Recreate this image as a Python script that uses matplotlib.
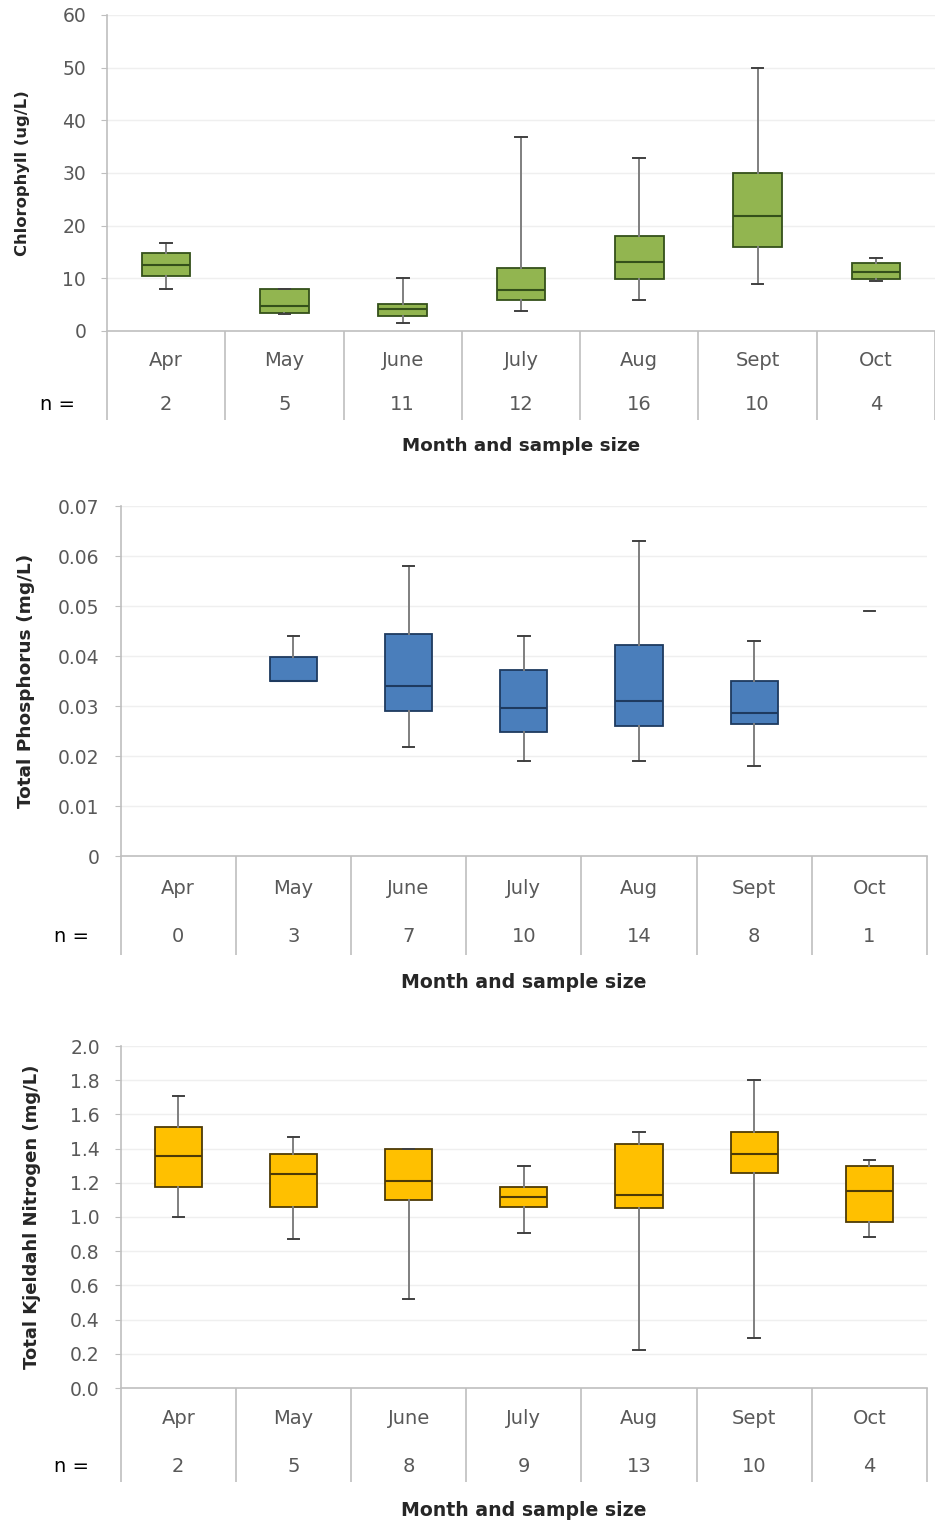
import matplotlib
matplotlib.use("Agg")
import matplotlib.pyplot as plt

plt.rcParams['font.family'] = ['DejaVu Sans']

months = ["Apr", "May", "June", "July", "Aug", "Sept", "Oct"]

# chlorophyll (ug/L): low whisker, Q1, median, Q3, high whisker
chl_n = [2, 5, 11, 12, 16, 10, 4]
chl_lo = [8.0, 3.2, 1.5, 3.8, 5.8, 8.9, 9.5]
chl_q1 = [10.4, 3.5, 2.8, 5.8, 9.9, 16.0, 9.9]
chl_med = [12.6, 4.7, 4.1, 7.7, 13.1, 21.8, 11.2]
chl_q3 = [14.8, 8.0, 5.1, 12.0, 18.0, 30.0, 13.0]
chl_hi = [16.8, 8.0, 10.0, 36.8, 32.9, 50.0, 13.9]

# total phosphorus (mg/L); Apr has no samples, Oct a single one
tp_n = [0, 3, 7, 10, 14, 8, 1]
tp_lo = [None, 0.035, 0.0218, 0.019, 0.019, 0.0181, 0.049]
tp_q1 = [None, 0.035, 0.029, 0.0249, 0.026, 0.0265, 0.049]
tp_med = [None, 0.035, 0.034, 0.0296, 0.031, 0.0286, 0.049]
tp_q3 = [None, 0.0398, 0.0445, 0.0373, 0.0422, 0.035, 0.049]
tp_hi = [None, 0.044, 0.058, 0.044, 0.0631, 0.043, 0.049]

# total Kjeldahl nitrogen (mg/L)
tkn_n = [2, 5, 8, 9, 13, 10, 4]
tkn_lo = [1.0, 0.87, 0.52, 0.907, 0.225, 0.295, 0.882]
tkn_q1 = [1.175, 1.06, 1.099, 1.06, 1.05, 1.259, 0.968]
tkn_med = [1.357, 1.249, 1.212, 1.118, 1.13, 1.366, 1.152]
tkn_q3 = [1.528, 1.366, 1.40, 1.177, 1.425, 1.495, 1.30]
tkn_hi = [1.708, 1.47, 1.40, 1.30, 1.495, 1.80, 1.333]

W, H = 935, 1526
fig = plt.figure(figsize=(W / 100, H / 100), dpi=100)

GRAY = '#595959'


def add_panel(rect, lo, q1, med, q3, hi, ns, ylim, yticks, yfmt, ylabel, ysize, ylx,
              face, edge, band, month_off, n_off, xlab_off, nx, xsize):
    ax = fig.add_axes(rect)
    pos = list(range(1, len(months) + 1))
    stats, spos, single = [], [], []
    for i in range(len(months)):
        if q1[i] is None:
            continue
        s = dict(whislo=lo[i], q1=q1[i], med=med[i], q3=q3[i], whishi=hi[i], fliers=[])
        if ns[i] == 1:
            single.append((pos[i], s))
        else:
            stats.append(s)
            spos.append(pos[i])
    ax.bxp(stats, positions=spos, widths=0.41, patch_artist=True,
           showfliers=False, capwidths=0.1, manage_ticks=False,
           boxprops=dict(facecolor=face, edgecolor=edge, linewidth=1.3),
           medianprops=dict(color=edge, linewidth=1.5),
           whiskerprops=dict(color='#7f7f7f', linewidth=1.4),
           capprops=dict(color='#404040', linewidth=1.4), zorder=3)
    for p, s in single:
        ax.bxp([s], positions=[p], widths=0.41, showbox=False,
               showfliers=False, capwidths=0.1, manage_ticks=False,
               medianprops=dict(visible=False),
               whiskerprops=dict(color='#404040', linewidth=1.2),
               capprops=dict(color='#404040', linewidth=1.2), zorder=3)

    ax.set_xlim(0.5, len(months) + 0.5)
    ax.set_ylim(*ylim)
    ax.set_yticks(yticks)
    ax.set_yticklabels([yfmt(v) for v in yticks])
    ax.grid(axis='y', color='#efefef', linewidth=1)
    ax.set_axisbelow(True)
    for sp in ['top', 'right']:
        ax.spines[sp].set_visible(False)
    for sp in ['left', 'bottom']:
        ax.spines[sp].set_color('#bfbfbf')
        ax.spines[sp].set_linewidth(1.2)
    ax.tick_params(axis='y', colors='#bfbfbf', labelcolor=GRAY, length=4,
                   labelsize=13.5, pad=11)
    ax.set_xticks(pos)
    ax.set_xticklabels([])
    ax.tick_params(axis='x', which='major', length=0)
    ax.set_xticks([p + 0.5 for p in range(len(months) + 1)], minor=True)
    ax.tick_params(axis='x', which='minor', length=band * 0.72,
                   color='#bfbfbf', width=1.2)

    for p, m, n in zip(pos, months, ns):
        ax.annotate(m, xy=(p, 0), xycoords=('data', 'axes fraction'),
                    xytext=(0, -month_off), textcoords='offset pixels',
                    ha='center', va='center', fontsize=14, color=GRAY)
        ax.annotate(str(n), xy=(p, 0), xycoords=('data', 'axes fraction'),
                    xytext=(0, -n_off), textcoords='offset pixels',
                    ha='center', va='center', fontsize=14, color=GRAY)
    ax.annotate("n =", xy=(0, 0), xycoords='axes fraction',
                xytext=(nx, -n_off), textcoords='offset pixels',
                ha='center', va='center', fontsize=14, color='black')
    ax.annotate("Month and sample size", xy=(0.5, 0), xycoords='axes fraction',
                xytext=(0, -xlab_off), textcoords='offset pixels',
                ha='center', va='center', fontsize=xsize, fontweight='bold',
                color='#262626')
    ax.set_ylabel(ylabel, fontsize=ysize, fontweight='bold', color='#262626')
    ax.yaxis.set_label_coords(ylx, 0.5)
    return ax


def fy(top, bottom):
    return 1 - bottom / H, (bottom - top) / H


b, h = fy(15, 331)
add_panel([107 / W, b, 1 - 107 / W, h], chl_lo, chl_q1, chl_med, chl_q3, chl_hi,
          chl_n, (0, 60), [0, 10, 20, 30, 40, 50, 60], lambda v: f"{v:g}",
          "Chlorophyll (ug/L)", 11.8, -0.093,
          '#92B550', '#34501A', 89, 30, 73, 115, -50, 13.2)

b, h = fy(506, 856)
add_panel([120.5 / W, b, 927 / W - 120.5 / W, h], tp_lo, tp_q1, tp_med, tp_q3, tp_hi,
          tp_n, (0, 0.07), [0, 0.01, 0.02, 0.03, 0.04, 0.05, 0.06, 0.07],
          lambda v: "0" if v == 0 else f"{v:.2f}",
          "Total Phosphorus (mg/L)", 13.3, -0.106,
          '#4A7EBB', '#1E3A5F', 99, 32, 80, 127, -49, 13.6)

b, h = fy(1046, 1388)
add_panel([120.7 / W, b, 927 / W - 120.7 / W, h], tkn_lo, tkn_q1, tkn_med, tkn_q3, tkn_hi,
          tkn_n, (0, 2.0), [0, 0.2, 0.4, 0.6, 0.8, 1.0, 1.2, 1.4, 1.6, 1.8, 2.0],
          lambda v: f"{v:.1f}",
          "Total Kjeldahl Nitrogen (mg/L)", 13.0, -0.099,
          '#FFC000', '#4D3A06', 94, 31, 78, 123, -49, 13.6)

fig.savefig("out.png", dpi=100)
